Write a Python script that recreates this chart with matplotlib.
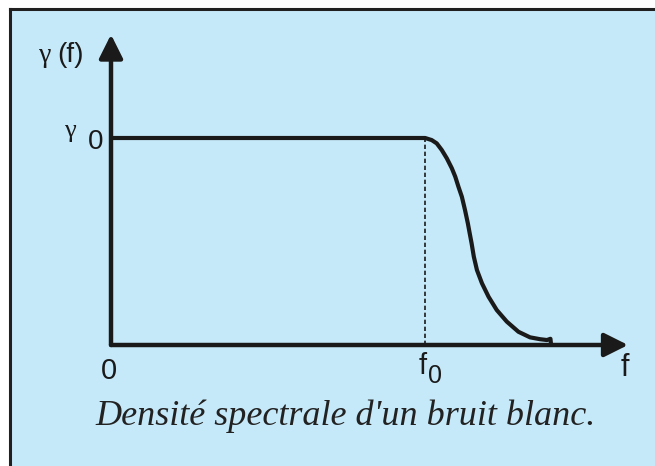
import matplotlib.pyplot as plt
from matplotlib.patches import Rectangle
from matplotlib.lines import Line2D

# spectral density: flat up to f0 (=1), then rolls off towards zero
freq = [0.0, 1.000, 1.021, 1.037, 1.053, 1.069, 1.085, 1.096, 1.106, 1.117,
        1.127, 1.136, 1.142, 1.148, 1.155, 1.165, 1.181, 1.202, 1.228, 1.260,
        1.297, 1.334, 1.366, 1.388, 1.399, 1.401]
gamma = [1.0, 1.000, 0.990, 0.974, 0.942, 0.902, 0.854, 0.813, 0.765, 0.716,
         0.652, 0.588, 0.539, 0.491, 0.427, 0.362, 0.298, 0.233, 0.169, 0.113,
         0.064, 0.037, 0.028, 0.024, 0.030, 0.0]
f0 = 1.0
gamma0 = 1.0
x_end = 1.646
y_end = 1.50

bg = '#c6e9f9'
ink = '#1a1a1a'

fig = plt.figure(figsize=(6.55, 4.66), dpi=100)
fig.patch.set_facecolor('white')

# light blue panel with a dark frame on top and left
fig.patches.append(Rectangle((10 / 655, 0), 1, 1 - 10 / 466, transform=fig.transFigure,
                             facecolor=bg, edgecolor='none', zorder=-2))
fig.lines.append(Line2D([10 / 655, 1], [1 - 9 / 466] * 2, transform=fig.transFigure,
                        color='#202020', lw=2.2, zorder=-1))
fig.lines.append(Line2D([10 / 655] * 2, [0, 1 - 9 / 466], transform=fig.transFigure,
                        color='#202020', lw=2.2, zorder=-1))

ax = fig.add_axes([111 / 655, 121 / 466, 534 / 655, 310.5 / 466])
ax.set_xlim(0, 1.7)
ax.set_ylim(0, 1.5)
ax.axis('off')

arrow = dict(arrowstyle='-|>,head_length=0.4,head_width=0.2', mutation_scale=36,
             lw=3.2, color=ink, shrinkA=0, shrinkB=0)
ax.annotate('', xy=(x_end, 0), xytext=(0, 0), arrowprops=arrow, annotation_clip=False)
ax.annotate('', xy=(0, y_end), xytext=(0, 0), arrowprops=arrow, annotation_clip=False)

ax.plot(freq, gamma, color=ink, lw=3.0, solid_capstyle='butt', solid_joinstyle='round',
        clip_on=False)
ax.plot([f0, f0], [0, gamma0], color=ink, lw=1.2, ls=(0, (2.6, 1.6)), clip_on=False)

sans = 'Liberation Sans'
ax.text(-0.006, -0.125, '0', ha='center', va='center', fontsize=21, family=sans, color=ink)
ax.text(f0 + 0.004, -0.1, 'f', ha='right', va='center', fontsize=21, family=sans, color=ink)
ax.text(f0 + 0.008, -0.15, '0', ha='left', va='center', fontsize=18, family=sans, color=ink)
ax.text(x_end - 0.01, -0.11, 'f', ha='center', va='center', fontsize=22, family=sans, color=ink)

ax.text(-0.13, gamma0 + 0.035, 'γ', ha='center', va='center', fontsize=19,
        family='Liberation Serif', color=ink)
ax.text(-0.05, gamma0 - 0.02, '0', ha='center', va='center', fontsize=20, family=sans, color=ink)
ax.text(-0.21, 1.40, 'γ', ha='center', va='center', fontsize=20,
        family='Liberation Serif', color=ink)
ax.text(-0.13, 1.40, '(f)', ha='center', va='center', fontsize=20, family=sans, color=ink)

fig.text(346 / 655, 41 / 466, "Densité spectrale d'un bruit blanc.", ha='center',
         va='baseline', fontsize=26, family='Liberation Serif', style='italic', color='#222222')

fig.savefig('out.png', dpi=100, facecolor=fig.get_facecolor())
